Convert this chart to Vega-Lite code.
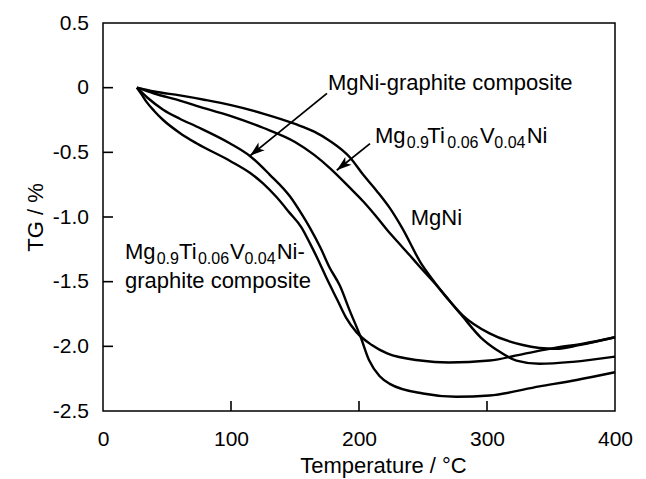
{
  "$schema": "https://vega.github.io/schema/vega-lite/v6.json",
  "width": 512,
  "height": 388,
  "autosize": {"type": "none"},
  "padding": {"left": 103, "top": 23, "right": 31, "bottom": 68},
  "background": "white",
  "config": {
    "font": "Liberation Sans",
    "view": {"stroke": "black", "strokeWidth": 1.5},
    "axis": {
      "labelColor": "black",
      "labelFontSize": 21,
      "labelFont": "Liberation Sans",
      "titleFont": "Liberation Sans",
      "titleFontSize": 22,
      "titleFontWeight": "normal",
      "titleColor": "black"
    }
  },
  "datasets": {
    "curves": [
      {"series": "MgNi", "T": 26.5, "TG": 0},
      {"series": "MgNi", "T": 40, "TG": -0.03},
      {"series": "MgNi", "T": 60, "TG": -0.06},
      {"series": "MgNi", "T": 80, "TG": -0.095},
      {"series": "MgNi", "T": 100, "TG": -0.135},
      {"series": "MgNi", "T": 125, "TG": -0.2},
      {"series": "MgNi", "T": 150, "TG": -0.28},
      {"series": "MgNi", "T": 165, "TG": -0.34},
      {"series": "MgNi", "T": 177, "TG": -0.41},
      {"series": "MgNi", "T": 193, "TG": -0.54},
      {"series": "MgNi", "T": 203, "TG": -0.67},
      {"series": "MgNi", "T": 214, "TG": -0.8},
      {"series": "MgNi", "T": 224, "TG": -0.93},
      {"series": "MgNi", "T": 234, "TG": -1.09},
      {"series": "MgNi", "T": 248, "TG": -1.35},
      {"series": "MgNi", "T": 258, "TG": -1.49},
      {"series": "MgNi", "T": 270, "TG": -1.64},
      {"series": "MgNi", "T": 281, "TG": -1.77},
      {"series": "MgNi", "T": 295, "TG": -1.93},
      {"series": "MgNi", "T": 308, "TG": -2.03},
      {"series": "MgNi", "T": 323, "TG": -2.11},
      {"series": "MgNi", "T": 341, "TG": -2.135},
      {"series": "MgNi", "T": 367, "TG": -2.12},
      {"series": "MgNi", "T": 400, "TG": -2.08},

      {"series": "MgTiVNi", "T": 26.5, "TG": 0},
      {"series": "MgTiVNi", "T": 40, "TG": -0.045},
      {"series": "MgTiVNi", "T": 60, "TG": -0.1},
      {"series": "MgTiVNi", "T": 73, "TG": -0.14},
      {"series": "MgTiVNi", "T": 100, "TG": -0.22},
      {"series": "MgTiVNi", "T": 125, "TG": -0.31},
      {"series": "MgTiVNi", "T": 150, "TG": -0.42},
      {"series": "MgTiVNi", "T": 165, "TG": -0.52},
      {"series": "MgTiVNi", "T": 177, "TG": -0.62},
      {"series": "MgTiVNi", "T": 193, "TG": -0.775},
      {"series": "MgTiVNi", "T": 203, "TG": -0.876},
      {"series": "MgTiVNi", "T": 213, "TG": -0.99},
      {"series": "MgTiVNi", "T": 222, "TG": -1.1},
      {"series": "MgTiVNi", "T": 230, "TG": -1.19},
      {"series": "MgTiVNi", "T": 240, "TG": -1.3},
      {"series": "MgTiVNi", "T": 248, "TG": -1.39},
      {"series": "MgTiVNi", "T": 259, "TG": -1.51},
      {"series": "MgTiVNi", "T": 270, "TG": -1.64},
      {"series": "MgTiVNi", "T": 281, "TG": -1.76},
      {"series": "MgTiVNi", "T": 302, "TG": -1.9},
      {"series": "MgTiVNi", "T": 328, "TG": -1.99},
      {"series": "MgTiVNi", "T": 354, "TG": -2.02},
      {"series": "MgTiVNi", "T": 372, "TG": -1.99},
      {"series": "MgTiVNi", "T": 400, "TG": -1.93},

      {"series": "MgTiVNi-graphite", "T": 26.5, "TG": 0},
      {"series": "MgTiVNi-graphite", "T": 30, "TG": -0.05},
      {"series": "MgTiVNi-graphite", "T": 34, "TG": -0.11},
      {"series": "MgTiVNi-graphite", "T": 40, "TG": -0.18},
      {"series": "MgTiVNi-graphite", "T": 47, "TG": -0.25},
      {"series": "MgTiVNi-graphite", "T": 60, "TG": -0.35},
      {"series": "MgTiVNi-graphite", "T": 73, "TG": -0.43},
      {"series": "MgTiVNi-graphite", "T": 99, "TG": -0.565},
      {"series": "MgTiVNi-graphite", "T": 115, "TG": -0.66},
      {"series": "MgTiVNi-graphite", "T": 125, "TG": -0.74},
      {"series": "MgTiVNi-graphite", "T": 135, "TG": -0.84},
      {"series": "MgTiVNi-graphite", "T": 146, "TG": -0.97},
      {"series": "MgTiVNi-graphite", "T": 155, "TG": -1.08},
      {"series": "MgTiVNi-graphite", "T": 162, "TG": -1.21},
      {"series": "MgTiVNi-graphite", "T": 168, "TG": -1.33},
      {"series": "MgTiVNi-graphite", "T": 175, "TG": -1.48},
      {"series": "MgTiVNi-graphite", "T": 183, "TG": -1.64},
      {"series": "MgTiVNi-graphite", "T": 190, "TG": -1.78},
      {"series": "MgTiVNi-graphite", "T": 198, "TG": -1.89},
      {"series": "MgTiVNi-graphite", "T": 210, "TG": -1.99},
      {"series": "MgTiVNi-graphite", "T": 222, "TG": -2.055},
      {"series": "MgTiVNi-graphite", "T": 248, "TG": -2.11},
      {"series": "MgTiVNi-graphite", "T": 270, "TG": -2.125},
      {"series": "MgTiVNi-graphite", "T": 302, "TG": -2.11},
      {"series": "MgTiVNi-graphite", "T": 328, "TG": -2.06},
      {"series": "MgTiVNi-graphite", "T": 354, "TG": -2.01},
      {"series": "MgTiVNi-graphite", "T": 375, "TG": -1.98},
      {"series": "MgTiVNi-graphite", "T": 400, "TG": -1.93},

      {"series": "MgNi-graphite", "T": 26.5, "TG": 0},
      {"series": "MgNi-graphite", "T": 35, "TG": -0.08},
      {"series": "MgNi-graphite", "T": 47, "TG": -0.17},
      {"series": "MgNi-graphite", "T": 60, "TG": -0.24},
      {"series": "MgNi-graphite", "T": 73, "TG": -0.3},
      {"series": "MgNi-graphite", "T": 99, "TG": -0.43},
      {"series": "MgNi-graphite", "T": 115, "TG": -0.53},
      {"series": "MgNi-graphite", "T": 130, "TG": -0.67},
      {"series": "MgNi-graphite", "T": 146, "TG": -0.84},
      {"series": "MgNi-graphite", "T": 156, "TG": -0.99},
      {"series": "MgNi-graphite", "T": 162, "TG": -1.09},
      {"series": "MgNi-graphite", "T": 170, "TG": -1.24},
      {"series": "MgNi-graphite", "T": 177, "TG": -1.39},
      {"series": "MgNi-graphite", "T": 185, "TG": -1.53},
      {"series": "MgNi-graphite", "T": 193, "TG": -1.73},
      {"series": "MgNi-graphite", "T": 201, "TG": -1.92},
      {"series": "MgNi-graphite", "T": 208, "TG": -2.11},
      {"series": "MgNi-graphite", "T": 216, "TG": -2.23},
      {"series": "MgNi-graphite", "T": 224, "TG": -2.29},
      {"series": "MgNi-graphite", "T": 250, "TG": -2.365},
      {"series": "MgNi-graphite", "T": 276, "TG": -2.39},
      {"series": "MgNi-graphite", "T": 302, "TG": -2.38},
      {"series": "MgNi-graphite", "T": 341, "TG": -2.31},
      {"series": "MgNi-graphite", "T": 370, "TG": -2.26},
      {"series": "MgNi-graphite", "T": 400, "TG": -2.2}
    ],
    "labels": [
      {"T": 175.8, "TG": -0.02, "text": "MgNi-graphite composite", "kind": "main"},
      {"T": 240.4, "TG": -1.06, "text": "MgNi", "kind": "main"},
      {"T": 212.5, "TG": -0.425, "text": "Mg", "kind": "main"},
      {"T": 237.3, "TG": -0.425, "text": "0.9", "kind": "sub"},
      {"T": 253.4, "TG": -0.425, "text": "Ti", "kind": "main"},
      {"T": 269.0, "TG": -0.425, "text": "0.06", "kind": "sub"},
      {"T": 294.5, "TG": -0.425, "text": "V", "kind": "main"},
      {"T": 305.7, "TG": -0.425, "text": "0.04", "kind": "sub"},
      {"T": 331.0, "TG": -0.425, "text": "Ni", "kind": "main"},
      {"T": 17.2, "TG": -1.321, "text": "Mg", "kind": "main"},
      {"T": 41.95, "TG": -1.321, "text": "0.9", "kind": "sub"},
      {"T": 59.4, "TG": -1.321, "text": "Ti", "kind": "main"},
      {"T": 74.2, "TG": -1.321, "text": "0.06", "kind": "sub"},
      {"T": 99.2, "TG": -1.321, "text": "V", "kind": "main"},
      {"T": 110.5, "TG": -1.321, "text": "0.04", "kind": "sub"},
      {"T": 135.7, "TG": -1.321, "text": "Ni-", "kind": "main"},
      {"T": 17.2, "TG": -1.546, "text": "graphite composite", "kind": "main"}
    ],
    "arrows": [
      {"id": 1, "end": "tail", "T": 175, "TG": -0.044},
      {"id": 1, "end": "tip", "T": 114.8, "TG": -0.527},
      {"id": 2, "end": "tail", "T": 208.6, "TG": -0.433},
      {"id": 2, "end": "tip", "T": 182.6, "TG": -0.639}
    ],
    "yTickValues": [
      {"TG": -2.0}, {"TG": -1.5}, {"TG": -1.0}, {"TG": -0.5}, {"TG": 0}
    ],
    "xTickValues": [
      {"T": 100}, {"T": 200}, {"T": 300}
    ]
  },
  "layer": [
    {
      "data": {"name": "curves"},
      "mark": {"type": "line", "color": "black", "strokeWidth": 2.4, "interpolate": "monotone"},
      "encoding": {
        "x": {
          "field": "T", "type": "quantitative",
          "scale": {"domain": [0, 400], "nice": false, "zero": false},
          "axis": {
            "values": [0, 100, 200, 300, 400],
            "title": "Temperature / °C",
            "domain": false,
            "grid": false,
            "ticks": false,
            "tickSize": 0,
            "labelFlush": false,
            "labelOverlap": false,
            "labelPadding": 17,
            "titleX": 280,
            "titleY": 54,
            "titleAlign": "center",
            "titleBaseline": "middle"
          }
        },
        "y": {
          "field": "TG", "type": "quantitative",
          "scale": {"domain": [-2.5, 0.5], "nice": false, "zero": false},
          "axis": {
            "values": [-2.5, -2, -1.5, -1, -0.5, 0, 0.5],
            "title": "TG / %",
            "domain": false,
            "grid": false,
            "ticks": false,
            "tickSize": 0,
            "labelExpr": "datum.value == 0 ? '0' : (datum.value < 0 ? '-' : '') + format(abs(datum.value), '.1f')",
            "labelPadding": 14.5,
            "labelOverlap": false,
            "titleX": -68,
            "titleY": 194,
            "titleAngle": -90,
            "titleAlign": "center",
            "titleBaseline": "middle"
          }
        },
        "detail": {"field": "series", "type": "nominal"}
      }
    },
    {
      "data": {"name": "yTickValues"},
      "mark": {"type": "rule", "color": "black", "strokeWidth": 1.6},
      "encoding": {
        "y": {"field": "TG", "type": "quantitative"},
        "x": {"datum": 0},
        "x2": {"datum": 7.8}
      }
    },
    {
      "data": {"name": "xTickValues"},
      "mark": {"type": "rule", "color": "black", "strokeWidth": 1.6},
      "encoding": {
        "x": {"field": "T", "type": "quantitative"},
        "y": {"datum": -2.5},
        "y2": {"datum": -2.4227}
      }
    },
    {
      "data": {"name": "labels"},
      "transform": [{"filter": "datum.kind == 'main'"}],
      "mark": {"type": "text", "align": "left", "baseline": "alphabetic", "fontSize": 22, "color": "black"},
      "encoding": {
        "x": {"field": "T", "type": "quantitative"},
        "y": {"field": "TG", "type": "quantitative"},
        "text": {"field": "text"}
      }
    },
    {
      "data": {"name": "labels"},
      "transform": [{"filter": "datum.kind == 'sub'"}],
      "mark": {"type": "text", "align": "left", "baseline": "alphabetic", "fontSize": 16, "dy": 5.5, "color": "black"},
      "encoding": {
        "x": {"field": "T", "type": "quantitative"},
        "y": {"field": "TG", "type": "quantitative"},
        "text": {"field": "text"}
      }
    },
    {
      "data": {"name": "arrows"},
      "mark": {"type": "line", "color": "black", "strokeWidth": 1.8},
      "encoding": {
        "x": {"field": "T", "type": "quantitative"},
        "y": {"field": "TG", "type": "quantitative"},
        "detail": {"field": "id", "type": "nominal"}
      }
    },
    {
      "data": {"name": "arrows"},
      "transform": [{"filter": "datum.end == 'tip'"}],
      "mark": {"type": "point", "shape": "M0,0L-0.33,1L0,0.75L0.33,1Z", "filled": true, "color": "black", "opacity": 1, "size": 900, "angle": 231},
      "encoding": {
        "x": {"field": "T", "type": "quantitative"},
        "y": {"field": "TG", "type": "quantitative"}
      }
    }
  ]
}
